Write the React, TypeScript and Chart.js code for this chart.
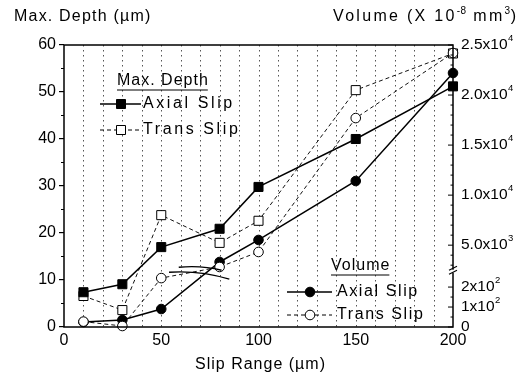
import React, { useEffect, useRef } from 'react';
import { Chart, registerables, LinearScale } from 'chart.js';

Chart.register(...registerables);

// ---------------- data ----------------
const slipRange = [10, 30, 50, 80, 100, 150, 200];
const depthAxialSlip = [7.4, 9.1, 17.0, 20.9, 29.8, 40.0, 51.2];
const depthTransSlip = [6.6, 3.6, 23.8, 17.9, 22.6, 50.4, 58.2];
const volumeAxialSlip = [25, 35, 90, 3320, 5520, 11410, 22200];
const volumeTransSlip = [27, 5, 245, 2820, 4320, 17700, 24200];

const xTickValues = [0, 50, 100, 150, 200];
const depthTickValues = [0, 10, 20, 30, 40, 50, 60];
const volumeTickValues = [0, 100, 200, 5000, 10000, 15000, 20000, 25000];
const volumeTickBases = ['0', '1x10', '2x10', '5.0x10', '1.0x10', '1.5x10', '2.0x10', '2.5x10'];
const volumeTickExps = ['', '2', '2', '3', '4', '4', '4', '4'];

// ---------------- broken volume axis ----------------
const LOW_MAX = 250;
const HIGH_MIN = 2600;
const VOL_MAX = 25000;
const LOW_FRAC = 0.177;
const HIGH_FRAC = 0.205;
const BREAK_VALUE = 2000;

function volToDec(v: number) {
  if (v <= LOW_MAX) return (v / LOW_MAX) * LOW_FRAC;
  if (v >= HIGH_MIN) return HIGH_FRAC + ((v - HIGH_MIN) / (VOL_MAX - HIGH_MIN)) * (1 - HIGH_FRAC);
  return LOW_FRAC + ((v - LOW_MAX) / (HIGH_MIN - LOW_MAX)) * (HIGH_FRAC - LOW_FRAC);
}
function decToVol(d: number) {
  if (d <= LOW_FRAC) return (d / LOW_FRAC) * LOW_MAX;
  if (d >= HIGH_FRAC) return HIGH_MIN + ((d - HIGH_FRAC) / (1 - HIGH_FRAC)) * (VOL_MAX - HIGH_MIN);
  return LOW_MAX + ((d - LOW_FRAC) / (HIGH_FRAC - LOW_FRAC)) * (HIGH_MIN - LOW_MAX);
}

class BrokenVolumeScale extends (LinearScale as any) {
  static id = 'brokenVolume';
  static defaults = (LinearScale as any).defaults;
  buildTicks() {
    return volumeTickValues.map((value) => ({ value }));
  }
  getPixelForValue(value: number) {
    if (value === null || value === undefined || isNaN(value)) return NaN;
    return (this as any).getPixelForDecimal(volToDec(value));
  }
  getValueForPixel(pixel: number) {
    return decToVol((this as any).getDecimalForPixel(pixel));
  }
}
Chart.register(BrokenVolumeScale as any);

// ---------------- drawing helpers ----------------
const FONT = '"Liberation Sans", Arial, Helvetica, sans-serif';

function setFont(ctx: any, size: number, spacing = 0) {
  ctx.font = `${size}px ${FONT}`;
  ctx.letterSpacing = `${spacing}px`;
}

function seg(ctx: any, x1: number, y1: number, x2: number, y2: number) {
  ctx.beginPath();
  ctx.moveTo(x1, y1);
  ctx.lineTo(x2, y2);
  ctx.stroke();
}

function marker(ctx: any, kind: string, cx: number, cy: number) {
  ctx.save();
  ctx.setLineDash([]);
  ctx.lineWidth = 1;
  ctx.strokeStyle = '#000';
  ctx.fillStyle = kind.startsWith('open') ? '#fff' : '#000';
  ctx.beginPath();
  if (kind.endsWith('Square')) ctx.rect(cx - 4.5, cy - 4.5, 9, 9);
  else ctx.arc(cx, cy, 4.8, 0, Math.PI * 2);
  ctx.fill();
  ctx.stroke();
  ctx.restore();
}

function legendRow(ctx: any, y: number, x1: number, x2: number, mx: number, tx: number, dashed: boolean, kind: string, label: string, spacing: number) {
  ctx.save();
  ctx.strokeStyle = '#000';
  ctx.lineWidth = dashed ? 1 : 1.5;
  ctx.setLineDash(dashed ? [4, 3] : []);
  seg(ctx, x1, y, x2, y);
  ctx.restore();
  marker(ctx, kind, mx, y);
  setFont(ctx, 16, spacing);
  ctx.textAlign = 'left';
  ctx.textBaseline = 'middle';
  ctx.fillStyle = '#000';
  ctx.fillText(label, tx, y);
}

function underlinedTitle(ctx: any, text: string, x: number, y: number, spacing: number) {
  setFont(ctx, 16, spacing);
  ctx.textAlign = 'left';
  ctx.textBaseline = 'middle';
  ctx.fillStyle = '#000';
  ctx.fillText(text, x, y);
  const w = ctx.measureText(text).width - spacing;
  ctx.save();
  ctx.lineWidth = 1.2;
  ctx.setLineDash([]);
  seg(ctx, x, y + 9, x + w, y + 9);
  ctx.restore();
}

const decorPlugin = {
  id: 'decor',
  beforeDatasetsDraw(chart: any) {
    const { ctx, chartArea: a, scales } = chart;
    const x = scales.x;
    ctx.save();
    ctx.strokeStyle = '#555';
    ctx.lineWidth = 1;
    ctx.setLineDash([1.5, 3.5]);
    for (let v = 10; v < 200; v += 10) {
      const px = Math.round(x.getPixelForValue(v)) + 0.5;
      seg(ctx, px, a.top, px, a.bottom);
    }
    ctx.restore();
  },
  afterDraw(chart: any) {
    const { ctx, chartArea: a, scales } = chart;
    const y = scales.y;
    const yv = scales.yv;
    ctx.save();
    ctx.setLineDash([]);
    ctx.strokeStyle = '#000';
    ctx.fillStyle = '#000';

    // frame
    ctx.lineWidth = 1.5;
    ctx.strokeRect(a.left, a.top, a.right - a.left, a.bottom - a.top);

    // left minor ticks
    ctx.lineWidth = 1;
    for (let v = 5; v < 60; v += 10) {
      const py = y.getPixelForValue(v);
      seg(ctx, a.left - 3, py, a.left, py);
    }

    // right major ticks (inward)
    volumeTickValues.forEach((v) => {
      const py = yv.getPixelForValue(v);
      seg(ctx, a.right - 5, py, a.right, py);
    });
    // right minor ticks
    for (let v = 50; v < LOW_MAX; v += 100) {
      const py = yv.getPixelForValue(v);
      seg(ctx, a.right - 2.5, py, a.right, py);
    }
    for (let v = 3000; v < VOL_MAX; v += 1000) {
      if (v % 5000 === 0) continue;
      const py = yv.getPixelForValue(v);
      seg(ctx, a.right - 2.5, py, a.right, py);
    }

    // right tick labels with superscripts
    ctx.textBaseline = 'middle';
    ctx.textAlign = 'left';
    volumeTickValues.forEach((v, i) => {
      const py = yv.getPixelForValue(v);
      setFont(ctx, 15.5, 0);
      const base = volumeTickBases[i];
      ctx.fillText(base, a.right + 8, py);
      const w = ctx.measureText(base).width;
      if (volumeTickExps[i]) {
        setFont(ctx, 9.5, 0);
        ctx.fillText(volumeTickExps[i], a.right + 8 + w + 0.5, py - 7);
      }
    });

    // right axis break
    const by = yv.getPixelForValue(BREAK_VALUE);
    ctx.fillStyle = '#fff';
    ctx.fillRect(a.right - 2, by - 1.5, 4, 3);
    ctx.fillStyle = '#000';
    ctx.lineWidth = 1.2;
    seg(ctx, a.right - 4, by - 1, a.right + 4, by - 5);
    seg(ctx, a.right - 4, by + 3, a.right + 4, by - 1);

    // series break marks
    const x = scales.x;
    ctx.lineWidth = 1.4;
    ctx.beginPath();
    ctx.moveTo(x.getPixelForValue(54), by + 1);
    ctx.quadraticCurveTo(x.getPixelForValue(70), by - 1, x.getPixelForValue(85), by + 8);
    ctx.stroke();
    ctx.beginPath();
    ctx.moveTo(x.getPixelForValue(59), by - 4);
    ctx.quadraticCurveTo(x.getPixelForValue(71), by - 6, x.getPixelForValue(81), by - 1);
    ctx.stroke();

    // axis titles
    ctx.fillStyle = '#000';
    setFont(ctx, 16, 1.2);
    ctx.textAlign = 'left';
    ctx.textBaseline = 'middle';
    ctx.fillText('Max. Depth (\u00b5m)', 14, 17);

    setFont(ctx, 16, 1);
    ctx.textAlign = 'center';
    ctx.fillText('Slip Range (\u00b5m)', (a.left + a.right) / 2 + 2, 365);

    const parts = [
      { t: 'Volume (X 10', sup: false },
      { t: '-8', sup: true },
      { t: ' mm', sup: false },
      { t: '3', sup: true },
      { t: ')', sup: false },
    ];
    ctx.textAlign = 'left';
    const mainSpacing = 2.3;
    let total = 0;
    parts.forEach((p) => {
      if (p.sup) setFont(ctx, 10, 0.5); else setFont(ctx, 16, mainSpacing);
      total += ctx.measureText(p.t).width;
    });
    let cx = 516 + mainSpacing - total;
    parts.forEach((p) => {
      if (p.sup) setFont(ctx, 10, 0.5); else setFont(ctx, 16, mainSpacing);
      ctx.fillText(p.t, cx, p.sup ? 11 : 17);
      cx += ctx.measureText(p.t).width;
    });

    // legend: Max. Depth
    underlinedTitle(ctx, 'Max. Depth', 117, 81, 1.0);
    legendRow(ctx, 104, 100, 141, 121, 143, false, 'filledSquare', 'Axial Slip', 2.6);
    legendRow(ctx, 130, 100, 141, 121, 143, true, 'openSquare', 'Trans Slip', 2.6);

    // legend: Volume
    underlinedTitle(ctx, 'Volume', 331, 266, 1.0);
    legendRow(ctx, 292, 287, 332, 310, 337, false, 'filledCircle', 'Axial Slip', 1.6);
    legendRow(ctx, 315, 287, 332, 310, 337, true, 'openCircle', 'Trans Slip', 1.6);

    ctx.restore();
  },
};

function pairs(values: number[]) {
  return slipRange.map((x, i) => ({ x, y: values[i] }));
}

export default function App() {
  const canvasRef = useRef<HTMLCanvasElement | null>(null);

  useEffect(() => {
    const canvas = canvasRef.current;
    if (!canvas) return;
    const solid = { borderColor: '#000', borderWidth: 1.5, borderDash: [] as number[] };
    const dashed = { borderColor: '#111', borderWidth: 1, borderDash: [4, 3] };
    const chart = new Chart(canvas, {
      type: 'line',
      data: {
        datasets: [
          {
            label: 'Depth Axial Slip',
            data: pairs(depthAxialSlip),
            yAxisID: 'y',
            order: 1,
            ...solid,
            pointStyle: 'rect',
            pointRadius: 6.4,
            pointBackgroundColor: '#000',
            pointBorderColor: '#000',
            pointBorderWidth: 1,
            clip: false,
          },
          {
            label: 'Depth Trans Slip',
            data: pairs(depthTransSlip),
            yAxisID: 'y',
            order: 3,
            ...dashed,
            pointStyle: 'rect',
            pointRadius: 6.4,
            pointBackgroundColor: '#fff',
            pointBorderColor: '#000',
            pointBorderWidth: 1,
            clip: false,
          },
          {
            label: 'Volume Axial Slip',
            data: pairs(volumeAxialSlip),
            yAxisID: 'yv',
            order: 2,
            ...solid,
            pointStyle: 'circle',
            pointRadius: 4.8,
            pointBackgroundColor: '#000',
            pointBorderColor: '#000',
            pointBorderWidth: 1,
            clip: false,
          },
          {
            label: 'Volume Trans Slip',
            data: pairs(volumeTransSlip),
            yAxisID: 'yv',
            order: 0,
            ...dashed,
            pointStyle: 'circle',
            pointRadius: 4.8,
            pointBackgroundColor: '#fff',
            pointBorderColor: '#000',
            pointBorderWidth: 1,
            clip: false,
          },
        ] as any,
      },
      options: {
        animation: false,
        responsive: false,
        events: [],
        layout: { padding: { top: 45, left: 0, right: 0, bottom: 0 } },
        plugins: { legend: { display: false }, tooltip: { enabled: false }, title: { display: false } },
        elements: { line: { tension: 0 } },
        scales: {
          x: {
            type: 'linear',
            position: 'bottom',
            min: 0,
            max: 200,
            afterBuildTicks: (s: any) => {
              s.ticks = xTickValues.map((value) => ({ value }));
            },
            afterFit: (s: any) => {
              s.height = 54;
            },
            ticks: {
              autoSkip: false,
              maxRotation: 0,
              padding: 4,
              color: '#000',
              font: { family: FONT, size: 16 },
            },
            grid: { display: false, drawTicks: false },
            border: { display: false },
          },
          y: {
            type: 'linear',
            position: 'left',
            min: 0,
            max: 60,
            afterBuildTicks: (s: any) => {
              s.ticks = depthTickValues.map((value) => ({ value }));
            },
            afterFit: (s: any) => {
              s.width = 64;
            },
            ticks: {
              padding: 3,
              color: '#000',
              font: { family: FONT, size: 16 },
            },
            grid: { display: true, drawOnChartArea: false, drawTicks: true, tickLength: 5, color: '#000', lineWidth: 1.2 },
            border: { display: false },
          },
          yv: {
            type: 'brokenVolume',
            position: 'right',
            min: 0,
            max: VOL_MAX,
            afterFit: (s: any) => {
              s.width = 74;
            },
            ticks: { display: false },
            grid: { display: false, drawTicks: false },
            border: { display: false },
          },
        } as any,
      },
      plugins: [decorPlugin as any],
    });
    return () => chart.destroy();
  }, []);

  return (
    <div style={{ position: 'fixed', left: 0, top: 0, width: 527, height: 381, background: '#fff' }}>
      <canvas ref={canvasRef} width={527} height={381} style={{ display: 'block' }} />
    </div>
  );
}
